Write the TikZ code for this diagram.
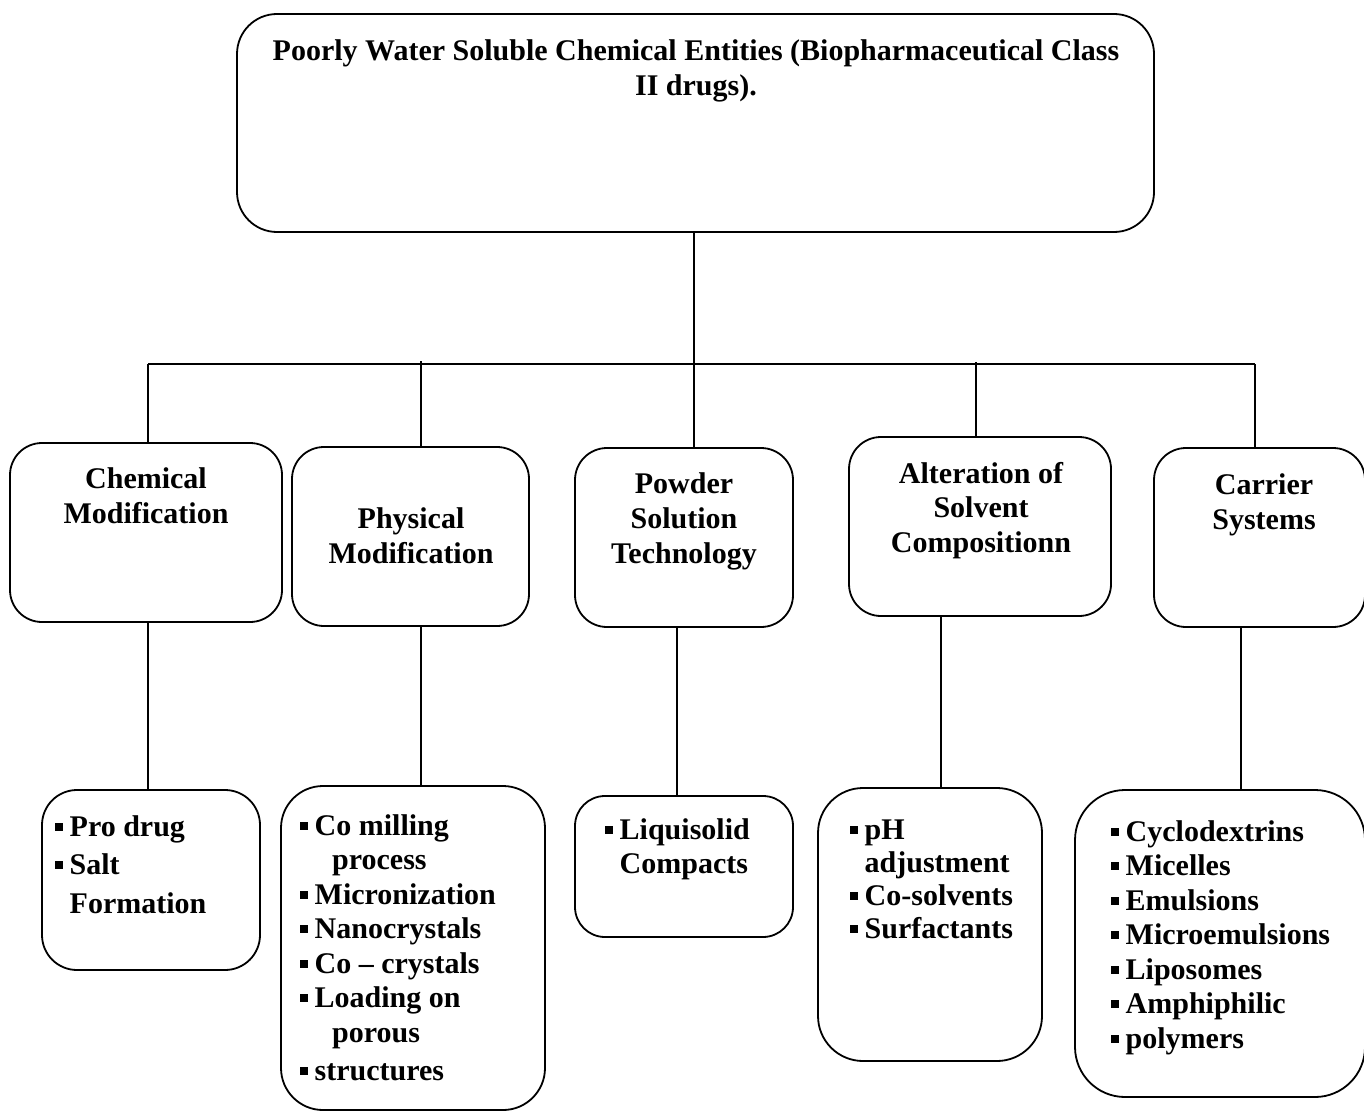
\documentclass[tikz,border=0pt]{standalone}
\usepackage{fontspec}
\setmainfont{Liberation Serif}
\newcommand\bx{\makebox[14.5pt][l]{\raisebox{5.5pt}{\rule{8pt}{8pt}}}}
\newcommand\ind{\hspace*{14.5pt}}
\newcommand\indd{\hspace*{32pt}}
\newcommand\lstL[1]{\begin{tabular}[t]{@{}l@{}}#1\end{tabular}}
\newcommand\lstC[1]{\begin{tabular}[t]{@{}c@{}}#1\end{tabular}}
\begin{document}
\begin{tikzpicture}[x=1pt,y=-1pt,
  box/.style={draw,line width=1.8pt,inner sep=0pt},
  conn/.style={line width=1.6pt},
  txt/.style={inner sep=0pt,font=\fontsize{30}{34.5}\selectfont\bfseries}]
\useasboundingbox (0,0) rectangle (1364,1110);
\fill[white] (0,0) rectangle (1364,1110);
% boxes
\node[box,rounded corners=40pt,minimum width=917pt,minimum height=218pt] (top) at (695.5,123) {};
\node[box,rounded corners=32pt,minimum width=272pt,minimum height=179pt] (chem) at (146,532.5) {};
\node[box,rounded corners=32pt,minimum width=237pt,minimum height=179pt] (phys) at (410.5,536.5) {};
\node[box,rounded corners=32pt,minimum width=218pt,minimum height=179pt] (powd) at (684,537.5) {};
\node[box,rounded corners=32pt,minimum width=262pt,minimum height=179pt] (alt) at (980,526.5) {};
\node[box,rounded corners=32pt,minimum width=211pt,minimum height=179pt] (carr) at (1259.5,537.5) {};
\node[box,rounded corners=35pt,minimum width=218pt,minimum height=180pt] (pro) at (151,880) {};
\node[box,rounded corners=42pt,minimum width=264pt,minimum height=324pt] (mill) at (413,948) {};
\node[box,rounded corners=30pt,minimum width=218pt,minimum height=141pt] (liq) at (684,866.5) {};
\node[box,rounded corners=45pt,minimum width=224pt,minimum height=273pt] (ph) at (930,924.5) {};
\node[box,rounded corners=50pt,minimum width=290pt,minimum height=307pt] (carl) at (1220,943.5) {};
% texts
\node[txt,anchor=base] (topt) at (696,61) {\lstC{Poorly Water Soluble Chemical Entities (Biopharmaceutical Class\\ II drugs).}};
\node[txt,anchor=base,font=\fontsize{30}{35.5}\selectfont\bfseries] (chemt) at (146,488) {\lstC{Chemical\\ Modification}};
\node[txt,anchor=base,font=\fontsize{30}{35}\selectfont\bfseries] (physt) at (411,528) {\lstC{Physical\\ Modification}};
\node[txt,anchor=base,font=\fontsize{30}{35}\selectfont\bfseries] (powdt) at (684,493) {\lstC{Powder\\ Solution\\ Technology}};
\node[txt,anchor=base,font=\fontsize{30}{34.5}\selectfont\bfseries] (altt) at (981,483) {\lstC{Alteration of\\ Solvent\\ Compositionn}};
\node[txt,anchor=base,font=\fontsize{30}{35}\selectfont\bfseries] (carrt) at (1264,494) {\lstC{Carrier\\ Systems}};
\node[txt,anchor=base west,font=\fontsize{30}{38.5}\selectfont\bfseries] (prot) at (55,836) {\lstL{\bx Pro drug\\ \bx Salt\\ \ind Formation}};
\node[txt,anchor=base west,font=\fontsize{30}{34.5}\selectfont\bfseries] (millt) at (300,835) {\lstL{\bx Co milling\\ \indd process\\ \bx Micronization\\ \bx Nanocrystals\\ \bx Co – crystals\\ \bx Loading on\\ \indd porous\\[3.5pt] \bx structures}};
\node[txt,anchor=base west,font=\fontsize{30}{34}\selectfont\bfseries] (liqt) at (605,839) {\lstL{\bx Liquisolid\\ \ind Compacts}};
\node[txt,anchor=base west,font=\fontsize{30}{33}\selectfont\bfseries] (pht) at (850,839) {\lstL{\bx pH\\ \ind adjustment\\ \bx Co-solvents\\ \bx Surfactants}};
\node[txt,anchor=base west,font=\fontsize{30}{34.5}\selectfont\bfseries] (carlt) at (1111,841) {\lstL{\bx Cyclodextrins\\ \bx Micelles\\ \bx Emulsions\\ \bx Microemulsions\\ \bx Liposomes\\ \bx Amphiphilic\\ \bx polymers}};
% connector coordinates
\coordinate (busL) at (148,364);
\coordinate (busR) at (1255,364);
\coordinate (d2) at (421,361);
\coordinate (d3) at (694,364);
\coordinate (d4) at (976,362);
\coordinate (x148) at (148,0);
\coordinate (x421) at (421,0);
\coordinate (x677) at (677,0);
\coordinate (x941) at (941,0);
\coordinate (x1241) at (1241,0);
% connectors
\draw[conn] (top.south -| d3) -- (d3);
\draw[conn] (busL) -- (busR);
\draw[conn] (busL) -- (busL |- chem.north);
\draw[conn] (d2) -- (d2 |- phys.north);
\draw[conn] (d3) -- (d3 |- powd.north);
\draw[conn] (d4) -- (d4 |- alt.north);
\draw[conn] (busR) -- (busR |- carr.north);
\draw[conn] (chem.south -| x148) -- (pro.north -| x148);
\draw[conn] (phys.south -| x421) -- (mill.north -| x421);
\draw[conn] (powd.south -| x677) -- (liq.north -| x677);
\draw[conn] (alt.south -| x941) -- (ph.north -| x941);
\draw[conn] (carr.south -| x1241) -- (carl.north -| x1241);
\end{tikzpicture}
\end{document}
